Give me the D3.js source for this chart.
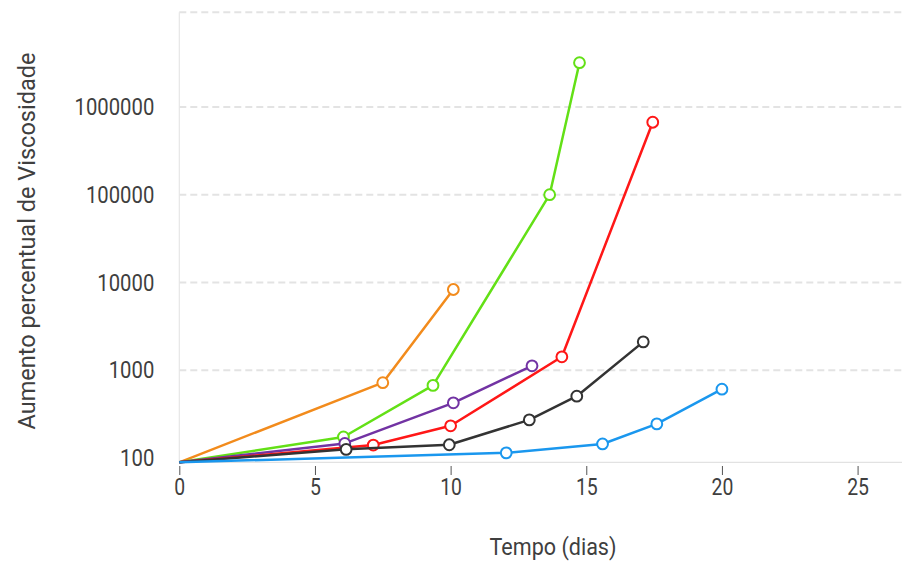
<!DOCTYPE html>
<html>
<head>
<meta charset="utf-8">
<script src="https://cdn.jsdelivr.net/npm/d3@7"></script>
<style>
  body { margin: 0; background: #fff; }
  text { font-family: Roboto, "Noto Sans", sans-serif; fill: #3f3f3f; }
</style>
</head>
<body>
<div id="chart"></div>
<script>
// values (days, % increase of viscosity)
const orangeDays = [0, 7.5, 10.1];
const orangeValues = [89, 720, 8300];
const greenDays = [0, 6.05, 9.35, 13.65, 14.75];
const greenValues = [89, 173, 670, 100000, 3200000];
const purpleDays = [0, 6.1, 10.1, 13.0];
const purpleValues = [89, 146, 424, 1120];
const redDays = [0, 7.15, 10.0, 14.1, 17.45];
const redValues = [89, 140, 232, 1420, 670000];
const blackDays = [0, 6.15, 9.95, 12.9, 14.65, 17.1];
const blackValues = [89, 125, 141, 271, 505, 2100];
const blueDays = [0, 12.05, 15.6, 17.6, 20.0];
const blueValues = [89, 114, 144, 244, 607];

const seriesColors = ["#f28b1c", "#63e016", "#7233a3", "#ff1717", "#333333", "#1a97ee"];
const xTicks = [0, 5, 10, 15, 20, 25];
const yTicks = [100, 1000, 10000, 100000, 1000000];

const series = [
  [orangeDays, orangeValues],
  [greenDays, greenValues],
  [purpleDays, purpleValues],
  [redDays, redValues],
  [blackDays, blackValues],
  [blueDays, blueValues]
].map(([days, values], i) => ({
  color: seriesColors[i],
  points: days.map((d, j) => ({ day: d, value: values[j] }))
}));

const width = 902, height = 561;
const plotLeft = 179.3, plotRight = 901, plotTop = 12.3, plotBottom = 462.3;

const svg = d3.select("#chart").append("svg")
  .attr("width", width)
  .attr("height", height);

const x = d3.scaleLinear().domain([0, 26.6]).range([plotLeft, plotRight]);
const y = d3.scaleLog().domain([89, 1.2e7]).range([plotBottom, plotTop]);

// gridlines (dashed) + top border
const gridValues = yTicks.slice(1);
svg.append("g").selectAll("line")
  .data(gridValues.map(v => y(v)).concat([plotTop]))
  .enter().append("line")
  .attr("x1", plotLeft).attr("x2", width)
  .attr("y1", d => d).attr("y2", d => d)
  .attr("stroke", "#e3e3e3")
  .attr("stroke-width", 2)
  .attr("stroke-dasharray", "7,4");

// left axis line and baseline
svg.append("line")
  .attr("x1", plotLeft).attr("x2", plotLeft)
  .attr("y1", plotTop).attr("y2", plotBottom)
  .attr("stroke", "#e6e6e6").attr("stroke-width", 1.2);
svg.append("line")
  .attr("x1", plotLeft).attr("x2", width)
  .attr("y1", plotBottom).attr("y2", plotBottom)
  .attr("stroke", "#e2e2e2").attr("stroke-width", 1.2);

// x axis
const xAxis = svg.append("g")
  .attr("transform", "translate(0," + (plotBottom + 3.7) + ")")
  .call(d3.axisBottom(x).tickValues(xTicks).tickSize(9).tickPadding(4));
xAxis.select(".domain").remove();
xAxis.selectAll(".tick line").attr("stroke", "#555").attr("stroke-width", 1);
xAxis.selectAll(".tick text")
  .attr("y", 29).attr("dy", 0)
  .attr("fill", "#3f3f3f")
  .style("font-size", "24px")
  .style("font-family", "Roboto, sans-serif")
  .attr("textLength", d => String(d).length * 10.9)
  .attr("lengthAdjust", "spacingAndGlyphs");

// y axis
const yAxis = svg.append("g")
  .attr("transform", "translate(" + plotLeft + ",0)")
  .call(d3.axisLeft(y).tickValues(yTicks).tickFormat(d3.format("d")).tickSize(0).tickPadding(25));
yAxis.select(".domain").remove();
yAxis.selectAll(".tick text")
  .attr("dy", "0.32em")
  .attr("fill", "#3f3f3f")
  .style("font-size", "24px")
  .style("font-family", "Roboto, sans-serif")
  .attr("textLength", d => String(d).length * 11.4)
  .attr("lengthAdjust", "spacingAndGlyphs");

// axis titles
svg.append("text")
  .attr("x", 553).attr("y", 555)
  .attr("text-anchor", "middle")
  .style("font-size", "24px")
  .attr("textLength", 127)
  .attr("lengthAdjust", "spacingAndGlyphs")
  .text("Tempo (dias)");
svg.append("text")
  .attr("transform", "translate(35,241) rotate(-90)")
  .attr("text-anchor", "middle")
  .style("font-size", "24px")
  .attr("textLength", 377)
  .attr("lengthAdjust", "spacingAndGlyphs")
  .text("Aumento percentual de Viscosidade");

// lines and markers
const line = d3.line().x(d => x(d.day)).y(d => y(d.value));
const groups = svg.append("g").selectAll("g")
  .data(series).enter().append("g");
groups.append("path")
  .attr("d", d => line(d.points))
  .attr("fill", "none")
  .attr("stroke", d => d.color)
  .attr("stroke-width", 2.5)
  .attr("stroke-linejoin", "round");
groups.each(function(s) {
  d3.select(this).selectAll("circle")
    .data(s.points.slice(1)).enter().append("circle")
    .attr("cx", d => x(d.day))
    .attr("cy", d => y(d.value))
    .attr("r", 5.4)
    .attr("fill", "#fff")
    .attr("stroke", s.color)
    .attr("stroke-width", 2);
});
</script>
</body>
</html>
